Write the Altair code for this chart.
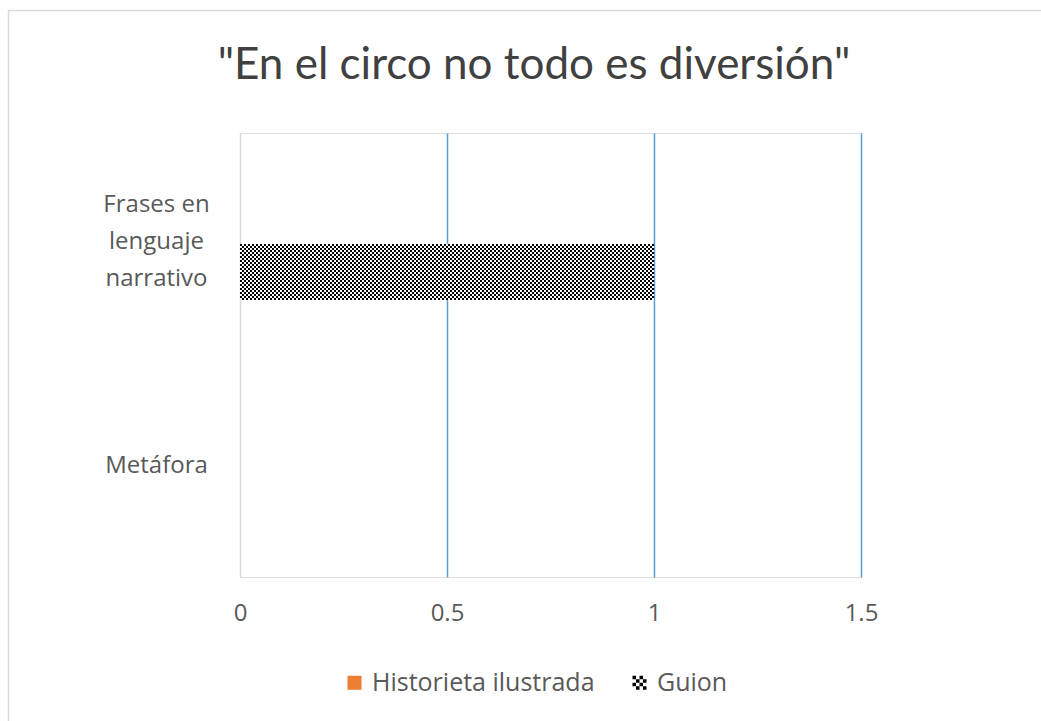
import json

import altair as alt
import pandas as pd

# ---- chart data -------------------------------------------------------------
categories = ["Frases en lenguaje narrativo", "Metáfora"]
category_lines = [["Frases en", "lenguaje", "narrativo"], ["Metáfora"]]

series_names = ["Historieta ilustrada", "Guion"]
historieta_values = [0, 0]
guion_values = [1, 0]

x_ticks = [0, 0.5, 1, 1.5]
x_domain = [0, 1.5]

HISTORIETA_ORANGE = "#ED7D31"
legend_colors = [HISTORIETA_ORANGE, "#000000"]

TITLE = '"En el circo no todo es diversión"'
TEXT_GREY = "#595959"
GRID_BLUE = "#5B9BD5"
ZERO_GREY = "#D9D9D9"
LINE_HEIGHT = 37

# ---- small-checkerboard texture ---------------------------------------------
# Each bar is cut into thin horizontal strips; every strip is drawn as a dashed
# rule, and alternate strips shift their dashes to form the checkerboard.
STRIPS = 28
rows = []
for name, vals in zip(series_names, [historieta_values, guion_values]):
    for cat, v in zip(categories, vals):
        for k in range(STRIPS):
            rows.append({
                "category": cat,
                "series": name,
                "start": 0,
                "value": v,
                "slot": f"{name}|{k:02d}",
                "parity": k % 2,
            })
df = pd.DataFrame(rows)
slot_domain = [f"{n}|{k:02d}" for n in series_names for k in range(STRIPS)]

# checker glyph for the legend (4x4 cells in the unit square)
checker_cells = []
for i in range(4):
    for j in range(4):
        if (i + j) % 2 == 0:
            x0 = -1 + 0.5 * i
            y0 = -1 + 0.5 * j
            checker_cells.append(f"M{x0},{y0}h0.5v0.5h-0.5Z")
checker_path = " ".join(checker_cells)

# ---- axes & scales ------------------------------------------------------------
label_map = {c: lines for c, lines in zip(categories, category_lines)}
label_expr = " : ".join(
    f"datum.value == {json.dumps(c)} ? {json.dumps(lines)}" for c, lines in label_map.items()
) + " : datum.value"

# centre multi-line category labels on their band
multi = [(c, len(lines)) for c, lines in label_map.items() if len(lines) > 1]
if multi:
    c, n = multi[0]
    label_offset = {
        "condition": {"test": f"datum.value == {json.dumps(c)}",
                      "value": -(n - 1) * LINE_HEIGHT / 2 - 2},
        "value": 0,
    }
else:
    label_offset = 0

x_enc = alt.X(
    "start:Q",
    scale=alt.Scale(domain=x_domain, nice=False, zero=True),
    axis=alt.Axis(
        values=x_ticks,
        title=None,
        grid=True,
        gridColor={"condition": {"test": "datum.value === 0", "value": ZERO_GREY},
                   "value": GRID_BLUE},
        gridWidth=1.5,
        ticks=False,
        domain=False,
        labelFont="Open Sans",
        labelFontSize=24,
        labelColor=TEXT_GREY,
        labelPadding=24,
        labelFlush=False,
        format="~g",
    ),
)
y_enc = alt.Y(
    "category:N",
    sort=categories,
    scale=alt.Scale(domain=categories, paddingInner=0, paddingOuter=0),
    axis=alt.Axis(
        title=None,
        ticks=False,
        domain=False,
        labelExpr=label_expr,
        labelAlign="center",
        labelBaseline="middle",
        labelPadding=84,
        labelOffset=label_offset,
        labelFont="Open Sans",
        labelFontSize=24,
        labelLineHeight=LINE_HEIGHT,
        labelColor=TEXT_GREY,
    ),
)
# the two bars of a category fill the middle half of its 222px band
yoff_enc = alt.YOffset(
    "slot:N",
    scale=alt.Scale(domain=slot_domain, paddingInner=0, paddingOuter=0, range=[55, 167]),
)

base = alt.Chart(df).encode(x=x_enc, x2="value:Q", y=y_enc, yOffset=yoff_enc)

historieta_bars = base.transform_filter(alt.datum.series == "Historieta ilustrada").mark_bar(
    fill=HISTORIETA_ORANGE, strokeWidth=0
)
guion_ground = base.transform_filter(alt.datum.series == "Guion").mark_bar(
    fill="#FFFFFF", strokeWidth=0
)

texture = base.transform_filter(alt.datum.series == "Guion")
rules_even = texture.transform_filter(alt.datum.parity == 0).mark_rule(
    color="#000000", strokeWidth=2, strokeDash=[2, 2], strokeDashOffset=0, strokeCap="butt"
)
rules_odd = texture.transform_filter(alt.datum.parity == 1).mark_rule(
    color="#000000", strokeWidth=2, strokeDash=[2, 2], strokeDashOffset=2, strokeCap="butt"
)

# zero-size points that only carry the series legend
legend_layer = alt.Chart(pd.DataFrame({"series": series_names})).mark_point(
    filled=True, size=0, opacity=1
).encode(
    x=alt.value(0),
    y=alt.value(0),
    color=alt.Color(
        "series:N",
        scale=alt.Scale(domain=series_names, range=legend_colors),
        legend=alt.Legend(
            orient="none",
            direction="horizontal",
            legendX=102,
            legendY=537,
            title=None,
            padding=0,
            labelFont="Open Sans",
            labelFontSize=25,
            labelColor=TEXT_GREY,
            labelLimit=0,
            labelOffset=5,
            columnPadding=32,
            symbolSize=196,
            symbolOpacity=1,
            symbolStrokeWidth=0,
        ),
    ),
    shape=alt.Shape("series:N", scale=alt.Scale(domain=series_names, range=["square", checker_path])),
)

# chart title, centred over the whole chart area
title_layer = alt.Chart(alt.Data(values=[{"t": TITLE}])).mark_text(
    font="Lato", fontSize=44, color="#404040", align="center", baseline="alphabetic"
).encode(text="t:N", x=alt.value(294), y=alt.value(-54))

# outer frame of the chart area
frame = alt.Chart(alt.Data(values=[{}])).mark_rect(
    fill="transparent", stroke=ZERO_GREY, strokeWidth=1.5
).encode(
    x=alt.value(-231.5), x2=alt.value(900), y=alt.value(-122.5), y2=alt.value(700)
)

chart = alt.layer(
    frame, historieta_bars, guion_ground, rules_even, rules_odd, legend_layer, title_layer
).properties(
    width=621,
    height=444,
    padding={"left": 240, "top": 133, "right": 180, "bottom": 144},
    autosize=alt.AutoSizeParams(type="none"),
).configure_view(stroke=None).configure(background="white")

chart.save("out.html", embed_options={"renderer": "svg", "actions": False})
